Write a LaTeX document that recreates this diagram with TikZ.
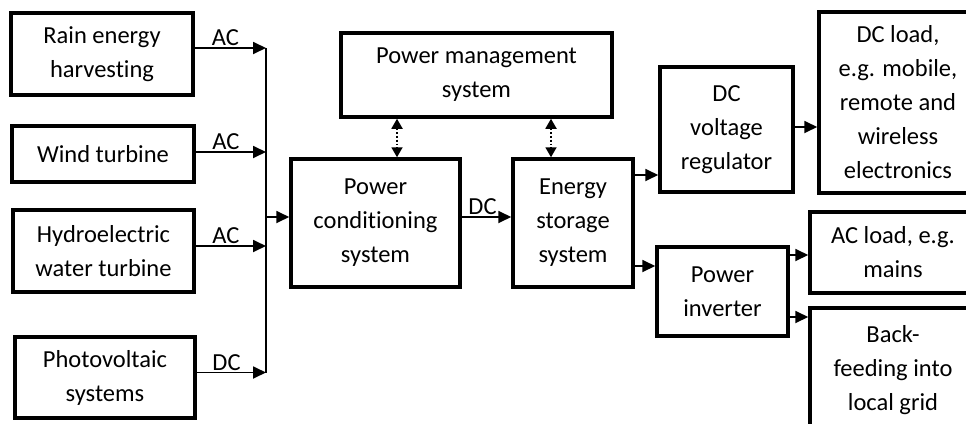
\documentclass[tikz,border=0pt]{standalone}
\usepackage{fontspec}
\setmainfont{Carlito}[RawFeature={-liga;-clig;-dlig}]
\usetikzlibrary{arrows.meta}
\begin{document}
\begin{tikzpicture}[x=1pt,y=-1pt,
  box/.style={draw, line width=3.5pt, align=center, inner sep=2pt, font=\fontsize{24.5}{34}\selectfont},
  conn/.style={line width=1.8pt, -{Triangle[length=13pt,width=12pt]}},
  dots/.style={line width=1.8pt, dotted, {Triangle[length=10pt,width=11pt]}-{Triangle[length=10pt,width=11pt]}},
  lbl/.style={above, inner sep=1pt, font=\fontsize{24.5}{34}\selectfont}]
\useasboundingbox (0,0) rectangle (966,423);
\clip (0,0) rectangle (966,423);
% sources
\node[box, minimum width=182pt, minimum height=82pt] (rain) at (102,54) {Rain energy\\harvesting};
\node[box, minimum width=182pt, minimum height=56pt] (wind) at (103,154) {Wind turbine};
\node[box, minimum width=181pt, minimum height=82pt] (hydro) at (103.5,251) {Hydroelectric\\water turbine};
\node[box, minimum width=180pt, minimum height=81pt] (pv) at (105,377.5) {Photovoltaic\\systems};
% central
\node[box, minimum width=271pt, minimum height=84pt] (pms) at (476.5,75) {Power management\\system};
\node[box, minimum width=169pt, minimum height=128pt] (pcs) at (375.5,223) {Power\\conditioning\\system};
\node[box, minimum width=120pt, minimum height=128pt] (ess) at (573,223) {Energy\\storage\\system};
% right
\node[box, minimum width=133pt, minimum height=125pt] (dcreg) at (726.5,129.5) {DC\\voltage\\regulator};
\node[box, minimum width=158pt, minimum height=181pt] (dcload) at (898,102.5) {DC load,\\e.g. mobile,\\remote and\\wireless\\electronics};
\node[box, minimum width=131pt, minimum height=89pt] (inv) at (722.5,291.5) {Power\\inverter};
\node[box, minimum width=166pt, minimum height=81pt] (acload) at (893,252.5) {AC load, e.g.\\mains};
\node[box, minimum width=166pt, minimum height=124pt] (back) at (893,370) {Back-\\feeding into\\local grid};
% helper coordinates
\coordinate (bus) at (266,0);
\coordinate (c1) at (397,0);
\coordinate (c2) at (551,0);
\coordinate (o1) at (0,175);
\coordinate (o2) at (0,266);
\coordinate (q1) at (0,255);
\coordinate (q2) at (0,317);
\coordinate (r1) at (0,127);
\coordinate (pin) at ([yshift=6pt]pcs.west);
\coordinate (pout) at ([yshift=6pt]pcs.east);
% source arrows
\draw[conn] ([yshift=6pt]rain.east) -- node[lbl, pos=0.43] {AC} ([yshift=6pt]rain.east -| bus);
\draw[conn] ([yshift=2pt]wind.east) -- node[lbl, pos=0.43] {AC} ([yshift=2pt]wind.east -| bus);
\draw[conn] ([yshift=5pt]hydro.east) -- node[lbl, pos=0.43] {AC} ([yshift=5pt]hydro.east -| bus);
\draw[conn] ([yshift=5pt]pv.east) -- node[lbl, pos=0.43] {DC} ([yshift=5pt]pv.east -| bus);
\draw[line width=1.8pt] ([yshift=6pt]rain.east -| bus) -- ([yshift=5pt]pv.east -| bus);
\draw[conn] (pin -| bus) -- (pin);
% central arrows
\draw[conn] (pout) -- node[lbl, pos=0.42] {DC} (pout -| ess.west);
\draw[dots] (pms.south -| c1) -- (pcs.north -| c1);
\draw[dots] (pms.south -| c2) -- (ess.north -| c2);
% outputs
\draw[conn] (ess.east |- o1) -- (dcreg.west |- o1);
\draw[conn] (ess.east |- o2) -- (inv.west |- o2);
\draw[conn] (dcreg.east |- r1) -- (dcload.west |- r1);
\draw[conn] (inv.east |- q1) -- (acload.west |- q1);
\draw[conn] (inv.east |- q2) -- (back.west |- q2);
\end{tikzpicture}
\end{document}
